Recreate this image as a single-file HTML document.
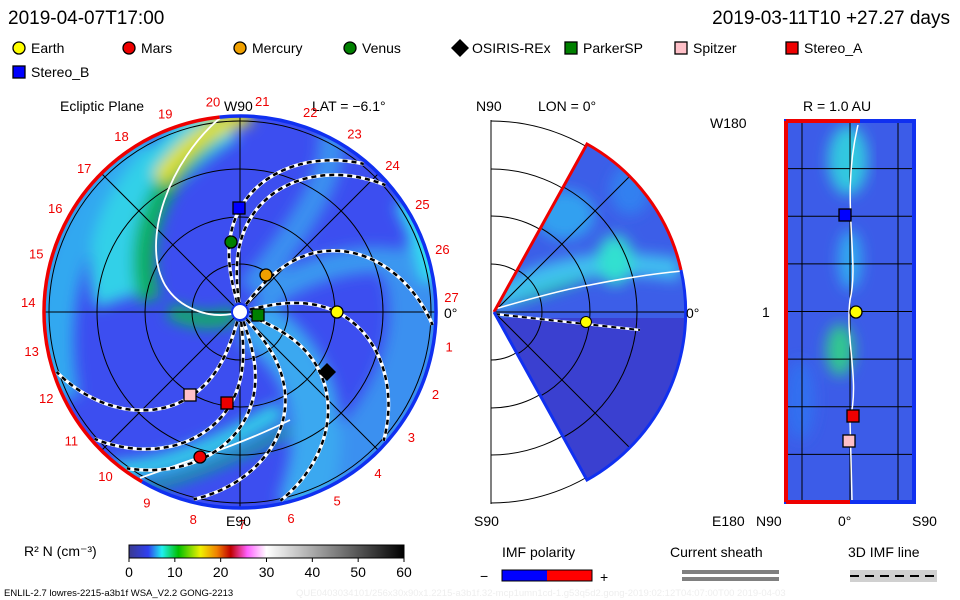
<!DOCTYPE html>
<html><head><meta charset="utf-8"><style>
body{margin:0;background:#fff;font-family:"Liberation Sans",sans-serif}
svg{display:block}
text{font-family:"Liberation Sans",sans-serif}
</style></head><body>
<svg id="c" width="960" height="600" viewBox="0 0 960 600">
<defs>
<clipPath id="circ"><circle cx="240" cy="312" r="196"/></clipPath>
<clipPath id="wedge"><path d="M494,312 L587,144 A192,192 0 0 1 587,480 Z"/></clipPath>
<clipPath id="rect"><rect x="786" y="121" width="128" height="381"/></clipPath>
<filter id="bl"><feGaussianBlur stdDeviation="7"/></filter>
<linearGradient id="cb" x1="0" x2="1">
<stop offset="0" stop-color="#3a3a90"/><stop offset="0.07" stop-color="#3040f0"/><stop offset="0.12" stop-color="#20f0f0"/><stop offset="0.18" stop-color="#00c000"/><stop offset="0.26" stop-color="#f0f000"/><stop offset="0.32" stop-color="#f08000"/><stop offset="0.37" stop-color="#c00000"/><stop offset="0.43" stop-color="#ff60ff"/><stop offset="0.5" stop-color="#ffffff"/><stop offset="1" stop-color="#000"/>
</linearGradient>
</defs>
<text x="8" y="24" font-size="19">2019-04-07T17:00</text>
<text x="950" y="24" font-size="19" text-anchor="end">2019-03-11T10 +27.27 days</text>
<g id="legend" font-size="14"></g>

<g>
<text x="60" y="111" font-size="14">Ecliptic Plane</text>
<text x="224" y="111" font-size="14">W90</text>
<text x="312" y="111" font-size="14">LAT = −6.1°</text>
<g clip-path="url(#circ)">
<circle cx="240" cy="312" r="196" fill="#3c4ef0"/>
<g filter="url(#bl)" id="blobs"></g>
<g id="grid" stroke="#000" stroke-width="1" fill="none"></g>
<path d="M220,118 C170,160 140,240 165,285 C180,310 210,318 232,314" stroke="#fff" stroke-width="1.8" fill="none"/>
<path d="M140,478 C190,460 240,445 290,420" stroke="#fff" stroke-width="1.8" fill="none"/>
<g id="spirals"></g>
</g>
<g id="rim"></g>
<g id="nums" font-size="13" fill="#e00"></g>
<circle cx="240" cy="312" r="8" fill="#fff" stroke="#1030f0" stroke-width="2"/>
<text x="444" y="318" font-size="14">0°</text>
<text x="226" y="526" font-size="14">E90</text>
<g id="bodies1"></g>
</g>

<g>
<text x="476" y="111" font-size="14">N90</text>
<text x="538" y="111" font-size="14">LON = 0°</text>
<text x="474" y="526" font-size="14">S90</text>
<g id="wgridout" stroke="#000" fill="none"></g>
<path d="M494,312 L587,144 A192,192 0 0 1 587,480 Z" fill="#fff"/>
<g clip-path="url(#wedge)">
<rect x="490" y="140" width="200" height="345" fill="#3c5ee8"/>
<rect x="490" y="318" width="200" height="170" fill="#3a40d0"/>
<g filter="url(#bl)">
<path d="M495,305 Q560,285 600,270" stroke="#20d0a0" stroke-width="10" fill="none"/>
<path d="M495,300 Q570,250 680,270" stroke="#40c0f0" stroke-width="22" fill="none"/>
<ellipse cx="615" cy="260" rx="18" ry="25" fill="#30e0d0"/>
<ellipse cx="565" cy="215" rx="30" ry="25" fill="#30a0f0"/>
<ellipse cx="630" cy="190" rx="20" ry="25" fill="#3080f0"/>
</g>
<g id="wgrid" stroke="#000" fill="none"></g>
<path d="M495,309 Q560,290 590,285 Q640,275 682,271" stroke="#fff" stroke-width="1.5" fill="none"/>
<path d="M495,314 L640,330" stroke="#fff" stroke-width="2.5" fill="none"/>
<path d="M495,314 L640,330" stroke="#000" stroke-width="2" stroke-dasharray="5 4" fill="none"/>
</g>
<path d="M494,312 L587,144 A192,192 0 0 1 681,270" stroke="#e00" stroke-width="3" fill="none"/>
<path d="M494,312 L587,480 A192,192 0 0 0 681,270" stroke="#1030f0" stroke-width="3" fill="none"/>
<text x="686" y="318" font-size="14">0°</text>
<circle cx="586" cy="322" r="5.5" fill="#ff0" stroke="#000"/>
</g>

<g>
<text x="803" y="111" font-size="14">R = 1.0 AU</text>
<text x="710" y="128" font-size="14">W180</text>
<text x="762" y="317" font-size="14">1</text>
<text x="712" y="526" font-size="14">E180</text>
<text x="756" y="526" font-size="14">N90</text>
<text x="838" y="526" font-size="14">0°</text>
<text x="912" y="526" font-size="14">S90</text>
<g clip-path="url(#rect)">
<rect x="786" y="121" width="128" height="381" fill="#3c5ce8"/>
<g filter="url(#bl)">
<ellipse cx="848" cy="160" rx="20" ry="35" fill="#30c8e0"/>
<ellipse cx="840" cy="350" rx="14" ry="26" fill="#30c890"/>
<ellipse cx="850" cy="260" rx="12" ry="30" fill="#30a8f0"/>
<ellipse cx="800" cy="400" rx="15" ry="40" fill="#3070f0"/>
</g>
<g id="rgrid" stroke="#000"></g>
<path d="M858,125 C840,200 860,260 850,300 C845,340 860,380 850,420 L852,500" stroke="#fff" stroke-width="1.5" fill="none"/>
</g>
<rect x="786" y="121" width="128" height="381" fill="none" stroke="#1030f0" stroke-width="4"/>
<line x1="786" y1="121" x2="786" y2="502" stroke="#e00" stroke-width="4"/>
<line x1="786" y1="121" x2="860" y2="121" stroke="#e00" stroke-width="4"/>
<line x1="786" y1="502" x2="850" y2="502" stroke="#e00" stroke-width="4"/>
<g id="bodies3"></g>
</g>

<g>
<text x="24" y="556" font-size="14">R² N (cm⁻³)</text>
<rect x="129" y="545" width="275" height="13" fill="url(#cb)" stroke="#000"/>
<g id="cbticks" font-size="14"></g>
</g>
<text x="4" y="596" font-size="9.5">ENLIL-2.7 lowres-2215-a3b1f WSA_V2.2 GONG-2213</text>
<text x="296" y="596" font-size="9.5" fill="#eee">QUE0403034101/256x30x90x1.2215-a3b1f.32-mcp1umn1cd-1.g53q5d2.gong-2019:02:12T04:07:00T00 2019-04-03</text>

<g>
<text x="502" y="557" font-size="14">IMF polarity</text>
<text x="480" y="581" font-size="14">−</text>
<rect x="502" y="570" width="45" height="11" fill="#00f"/>
<rect x="547" y="570" width="45" height="11" fill="#f00"/>
<rect x="502" y="570" width="90" height="11" fill="none" stroke="#000"/>
<text x="600" y="582" font-size="14">+</text>
<text x="670" y="557" font-size="14">Current sheath</text>
<rect x="682" y="570" width="97" height="4" fill="#808080"/>
<rect x="682" y="577" width="97" height="4" fill="#808080"/>
<text x="848" y="557" font-size="14">3D IMF line</text>
<rect x="850" y="570" width="87" height="12" fill="#d0d0d0"/>
<line x1="850" y1="576" x2="937" y2="576" stroke="#000" stroke-width="2" stroke-dasharray="9 6"/>
</g>
</svg>
<script>
const NS="http://www.w3.org/2000/svg";
function mk(p,tag,a){const e=document.createElementNS(NS,tag);for(const k in a)e.setAttribute(k,a[k]);p.appendChild(e);return e;}
const $=id=>document.getElementById(id);
// data
const legendNames=["Earth","Mars","Mercury","Venus","OSIRIS-REx","ParkerSP","Spitzer","Stereo_A","Stereo_B"];
const legendColors=["#ff0","#e00","#f0a000","#008000","#000","#008000","#ffc0c8","#e00","#00f"];
const legendShapes=["c","c","c","c","d","s","s","s","s"];
const bodyX=[337,200,266,231,327,258,190,227,239];
const bodyY=[312,457,275,242,372,315,395,403,208];
const sphereBodies=["Stereo_B","Earth","Stereo_A","Spitzer"];
const sphereX=[845,856,853,849];
const sphereY=[215,312,416,441];
const cbTicks=[0,10,20,30,40,50,60];
const spiralPhase=[106,97,52,14,-22,-48,-70,-83,-106];
const dayLabels=[1,2,3,4,5,6,7,8,9,10,11,12,13,14,15,16,17,18,19,20,21,22,23,24,25,26,27];

function shape(g,s,x,y,col,name){
  let e;
  if(s=="c")e=mk(g,"circle",{cx:x,cy:y,r:6,fill:col,stroke:"#000","stroke-width":1.3});
  else if(s=="s")e=mk(g,"rect",{x:x-6,y:y-6,width:12,height:12,fill:col,stroke:"#000","stroke-width":1.3});
  else e=mk(g,"path",{d:`M${x},${y-9}L${x+9},${y}L${x},${y+9}L${x-9},${y}Z`,fill:col});
  
  
  return e;
}
// legend
const lg=$("legend");
const lx=[19,129,240,350,460,571,681,792,19], ly=[48,48,48,48,48,48,48,48,72];
legendNames.forEach((n,i)=>{
  shape(lg,legendShapes[i],lx[i],ly[i],legendColors[i],"legend-marker-"+n.toLowerCase());
  const t=mk(lg,"text",{x:lx[i]+12,y:ly[i]+5});t.textContent=n;
  
  
});
// blobs in ecliptic
const bl=$("blobs");
mk(bl,"path",{d:"M300,500 C420,420 440,300 400,250",stroke:"#3a90f0","stroke-width":60,fill:"none"});
mk(bl,"path",{d:"M250,320 C320,360 330,440 300,510",stroke:"#3aa8f0","stroke-width":50,fill:"none"});
mk(bl,"path",{d:"M260,300 C320,260 380,250 420,270",stroke:"#3a98f0","stroke-width":26,fill:"none"});
mk(bl,"path",{d:"M250,290 C300,230 340,170 330,130",stroke:"#3a90f0","stroke-width":26,fill:"none"});
mk(bl,"path",{d:"M405,200 C420,230 430,260 432,280",stroke:"#30e0f0","stroke-width":22,fill:"none"});
mk(bl,"path",{d:"M60,400 C40,300 70,200 150,150",stroke:"#30a8f0","stroke-width":40,fill:"none"});
mk(bl,"path",{d:"M120,300 C100,240 140,170 225,118",stroke:"#30d0e8","stroke-width":50,fill:"none"});
mk(bl,"path",{d:"M150,300 C130,240 160,170 225,120",stroke:"#10b060","stroke-width":22,fill:"none"});
mk(bl,"path",{d:"M170,310 C200,325 220,320 235,315",stroke:"#10b060","stroke-width":16,fill:"none"});
mk(bl,"path",{d:"M160,180 C180,150 210,125 250,115",stroke:"#e0e020","stroke-width":18,fill:"none"});
mk(bl,"path",{d:"M110,470 C170,470 230,440 280,410",stroke:"#30d0e8","stroke-width":18,fill:"none"});
mk(bl,"path",{d:"M140,490 C200,475 250,450 290,430",stroke:"#10b080","stroke-width":8,fill:"none"});
// grid
const gr=$("grid");
[48,95,143,191].forEach(r=>mk(gr,"circle",{cx:240,cy:312,r:r}));
mk(gr,"line",{x1:40,y1:312,x2:440,y2:312});
mk(gr,"line",{x1:240,y1:110,x2:240,y2:515});
mk(gr,"line",{x1:100,y1:172,x2:380,y2:452});
mk(gr,"line",{x1:100,y1:452,x2:380,y2:172});
// spirals
const sp=$("spirals");
spiralPhase.forEach(p=>{
  let d="";
  for(let r=10;r<=194;r+=3){
    const a=(p- 0.0015*r*r)*Math.PI/180;
    const x=240+r*Math.cos(a), y=312-r*Math.sin(a);
    d+=(d?"L":"M")+x.toFixed(1)+","+y.toFixed(1);
  }
  mk(sp,"path",{d:d,stroke:"#fff","stroke-width":3.5,fill:"none"});
  const e=mk(sp,"path",{d:d,stroke:"#000","stroke-width":2.5,fill:"none","stroke-dasharray":"5 4"});
  
  
});
// rim
const rim=$("rim");
const arc=(a0,a1,col)=>{const r=196,p=a=>[240+r*Math.cos(a*Math.PI/180),312-r*Math.sin(a*Math.PI/180)];
 const s=p(a0),e=p(a1);const large=(a1-a0)>180?1:0;
 mk(rim,"path",{d:`M${s[0]},${s[1]}A196,196 0 ${large} 0 ${e[0]},${e[1]}`,stroke:col,"stroke-width":3.5,fill:"none"});};
arc(-120,96,"#1030f0");arc(96,240,"#e00");
// day numbers
const nm=$("nums");
dayLabels.forEach(n=>{
  const a=(4+(27-n)*13.33)*Math.PI/180;
  const t=mk(nm,"text",{x:240+212*Math.cos(a),y:312-212*Math.sin(a)+5,"text-anchor":"middle"});
  t.textContent=n;
  
  
});
// bodies
const b1=$("bodies1");
legendNames.forEach((n,i)=>shape(b1,legendShapes[i],bodyX[i],bodyY[i],legendColors[i],n.toLowerCase()+"-marker"));
// wedge grid (outside and inside)
const wo=$("wgridout");
mk(wo,"line",{x1:491,y1:120,x2:491,y2:504});
[48,96,143,191].forEach(r=>mk(wo,"path",{d:`M491,${312-r} A${r},${r} 0 0 1 491,${312+r}`}));
const wg=$("wgrid");
[48,96,143].forEach(r=>mk(wg,"circle",{cx:494,cy:312,r:r}));
mk(wg,"line",{x1:494,y1:312,x2:690,y2:312});
mk(wg,"line",{x1:494,y1:312,x2:631,y2:175});
mk(wg,"line",{x1:494,y1:312,x2:631,y2:449});
// rect grid
const rg=$("rgrid");
for(let i=1;i<8;i++){const y=121+i*381/8;mk(rg,"line",{x1:786,y1:y,x2:914,y2:y});}
[802,850,898].forEach(x=>mk(rg,"line",{x1:x,y1:121,x2:x,y2:502}));
const b3=$("bodies3");
sphereBodies.forEach((n,i)=>{const k=legendNames.indexOf(n);shape(b3,legendShapes[k],sphereX[i],sphereY[i],legendColors[k],n.toLowerCase()+"-sphere-marker");});
// colorbar ticks
const ct=$("cbticks");
cbTicks.forEach(v=>{const x=129+v/60*275;
  mk(ct,"line",{x1:x,y1:558,x2:x,y2:562,stroke:"#000"});
  const t=mk(ct,"text",{x:x,y:577,"text-anchor":"middle"});t.textContent=v;
  
  });
</script>
</body></html>
